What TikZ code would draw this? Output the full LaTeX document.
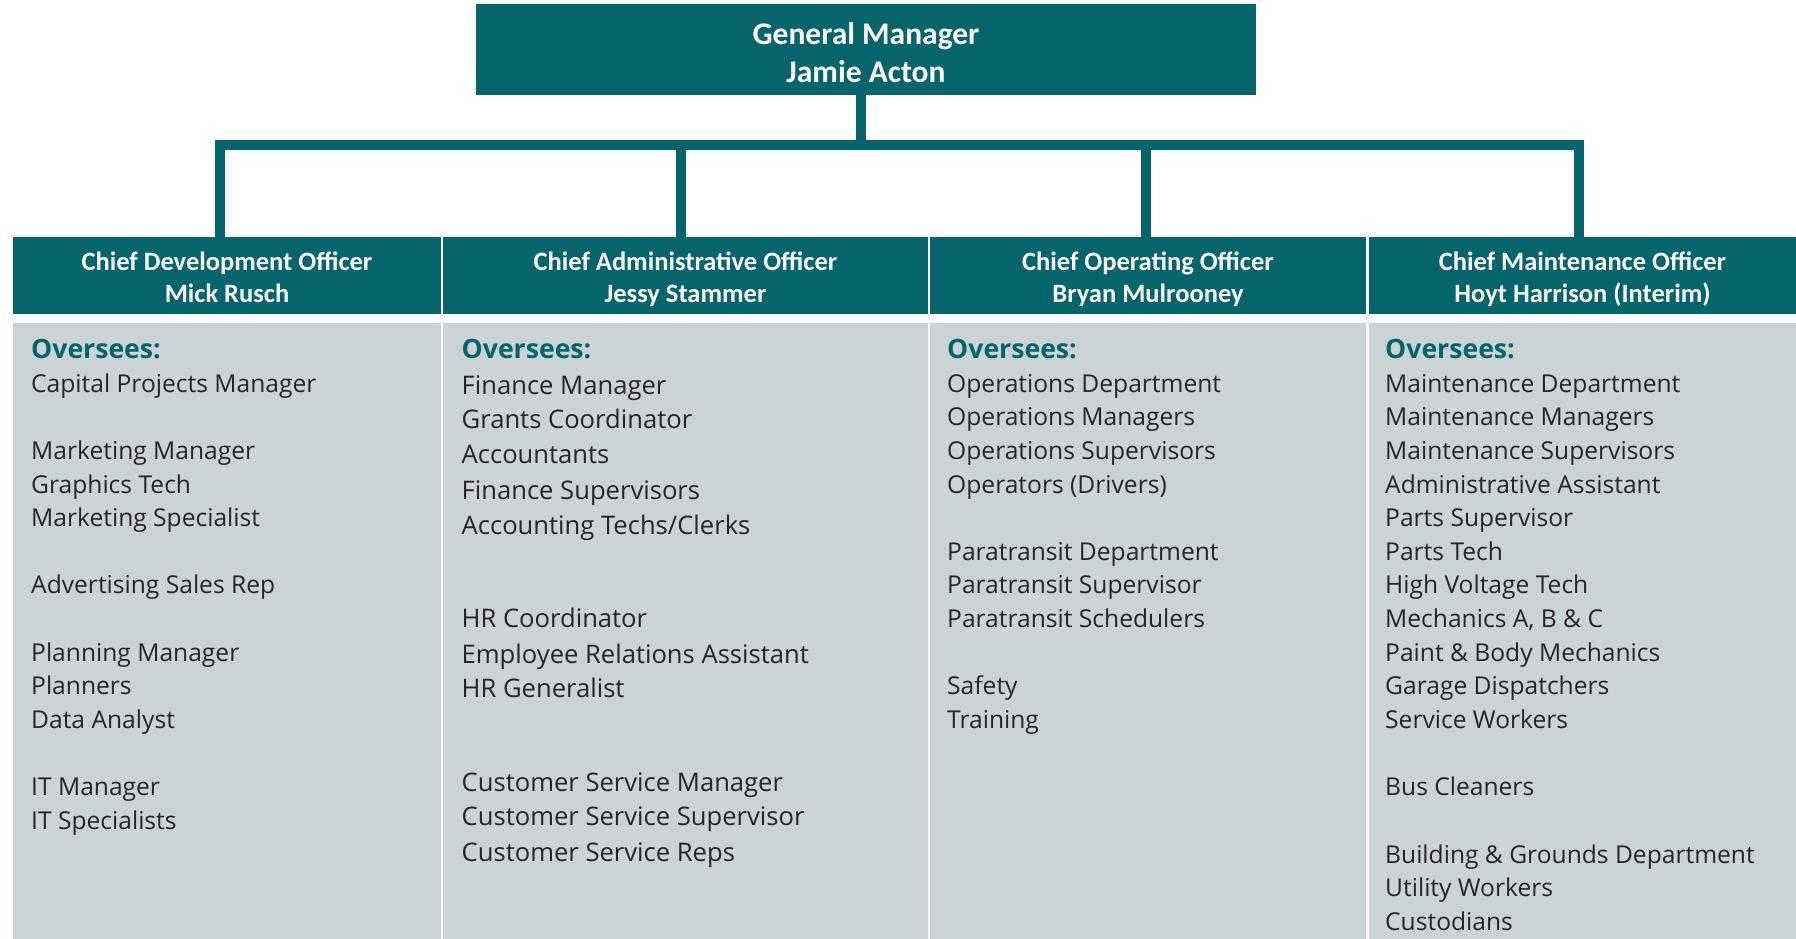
\documentclass[tikz,border=0pt]{standalone}
\usepackage{fontspec}
\usepackage{tikz}
\newfontfamily\hdfont{Carlito}
\newfontfamily\txtfont{Open Sans}
\definecolor{hdteal}{HTML}{05646C}
\definecolor{boxgray}{HTML}{CBD3D5}
\definecolor{inkgray}{HTML}{262626}

\begin{document}
\begin{tikzpicture}[x=1pt, y=-1pt,
		head_style/.style={rectangle,fill=hdteal,inner sep=0pt,outer sep=0pt,minimum height=77pt},
		head_text/.style={anchor=north,inner sep=0pt,text=white,align=center,
			font=\hdfont\bfseries\fontsize{26.5pt}{32pt}\selectfont},
		gm_text/.style={head_text,font=\hdfont\bfseries\fontsize{31.5pt}{38pt}\selectfont},
		body_style/.style={rectangle,fill=boxgray,inner sep=0pt,outer sep=0pt,minimum height=616pt},
		over_style/.style={anchor=base west,inner sep=0pt,text=hdteal,font=\txtfont\bfseries\fontsize{26.6pt}{32pt}\selectfont},
		item_style/.style={anchor=base west,inner sep=0pt,text=inkgray,font=\txtfont\fontsize{24.6pt}{29pt}\selectfont},
		big_item_style/.style={item_style,font=\txtfont\fontsize{25.6pt}{30pt}\selectfont},
		link_style/.style={draw=hdteal,line width=10pt,line join=miter}]

		\useasboundingbox (0,0) rectangle (1796,939);

		\node[head_style,minimum width=780pt,minimum height=91pt] (gm) at (866,49.5) {};
		\node[gm_text] (gmt) at ([yshift=-18.5pt]gm.north) {General Manager\\Jamie Acton};

		\node[head_style,minimum width=428pt] (h1) at (227,275.5) {};
		\node[head_style,minimum width=485pt] (h2) at (685.5,275.5) {};
		\node[head_style,minimum width=436pt] (h3) at (1148,275.5) {};
		\node[head_style,minimum width=427pt] (h4) at (1582.5,275.5) {};

		\node[head_text] (t1) at ([yshift=-15pt]h1.north) {Chief Development Officer\\Mick Rusch};
		\node[head_text] (t2) at ([yshift=-15pt]h2.north) {Chief Administrative Officer\\Jessy Stammer};
		\node[head_text] (t3) at ([yshift=-15pt]h3.north) {Chief Operating Officer\\Bryan Mulrooney};
		\node[head_text] (t4) at ([yshift=-15pt]h4.north) {Chief Maintenance Officer\\Hoyt Harrison (Interim)};

		\node[body_style,minimum width=428pt] (b1) at (227,631) {};
		\node[body_style,minimum width=485pt] (b2) at (685.5,631) {};
		\node[body_style,minimum width=436pt] (b3) at (1148,631) {};
		\node[body_style,minimum width=427pt] (b4) at (1582.5,631) {};

		\coordinate (bus) at (0,145);
		\draw[link_style] ([xshift=-7pt]h1.north) |- ([xshift=-3.5pt]h4.north |- bus) -- ([xshift=-3.5pt]h4.north);
		\draw[link_style] ([xshift=-5pt]gm.south) -- ([xshift=-5pt]gm.south |- bus);
		\draw[link_style] ([xshift=-4.5pt]h2.north) -- ([xshift=-4.5pt]h2.north |- bus);
		\draw[link_style] ([xshift=-2pt]h3.north) -- ([xshift=-2pt]h3.north |- bus);

		\node[over_style] (ov1) at (31,358) {Oversees:};
		\node[over_style] (ov2) at (461.5,358) {Oversees:};
		\node[over_style] (ov3) at (947,358) {Oversees:};
		\node[over_style] (ov4) at (1385,358) {Oversees:};

		\foreach \y/\t [count=\i] in {392/Capital Projects Manager, 459.3/Marketing Manager,
			493/Graphics Tech, 526.6/Marketing Specialist, 593.9/Advertising Sales Rep,
			661.2/Planning Manager, 694.9/Planners, 728.5/Data Analyst,
			795.8/IT Manager, 829.5/IT Specialists}
			\node[item_style] (dev\i) at (31,\y) {\t};

		\foreach \y/\t [count=\i] in {394/Finance Manager, 428.3/Grants Coordinator,
			463.8/Accountants, 499.3/Finance Supervisors, 534.8/{Accounting Techs/Clerks},
			627.6/HR Coordinator, 663.1/Employee Relations Assistant, 697.5/HR Generalist,
			791.4/Customer Service Manager, 825.8/Customer Service Supervisor, 861.3/Customer Service Reps}
			\node[big_item_style] (adm\i) at (461.5,\y) {\t};

		\foreach \y/\t [count=\i] in {392/Operations Department, 425.6/Operations Managers,
			459.3/Operations Supervisors, 493/Operators (Drivers),
			560.2/Paratransit Department, 593.9/Paratransit Supervisor, 627.5/Paratransit Schedulers,
			694.9/Safety, 728.5/Training}
			\node[item_style] (ops\i) at (947,\y) {\t};

		\foreach \y/\t [count=\i] in {392/Maintenance Department, 425.6/Maintenance Managers,
			459.3/Maintenance Supervisors, 493/Administrative Assistant, 526.6/Parts Supervisor,
			560.2/Parts Tech, 593.9/High Voltage Tech, 627.5/{Mechanics A, B \& C},
			661.2/Paint \& Body Mechanics, 694.9/Garage Dispatchers, 728.5/Service Workers,
			795.8/Bus Cleaners, 863.1/Building \& Grounds Department, 896.8/Utility Workers,
			930.4/Custodians}
			\node[item_style] (mnt\i) at (1385,\y) {\t};

\end{tikzpicture}
\end{document}
